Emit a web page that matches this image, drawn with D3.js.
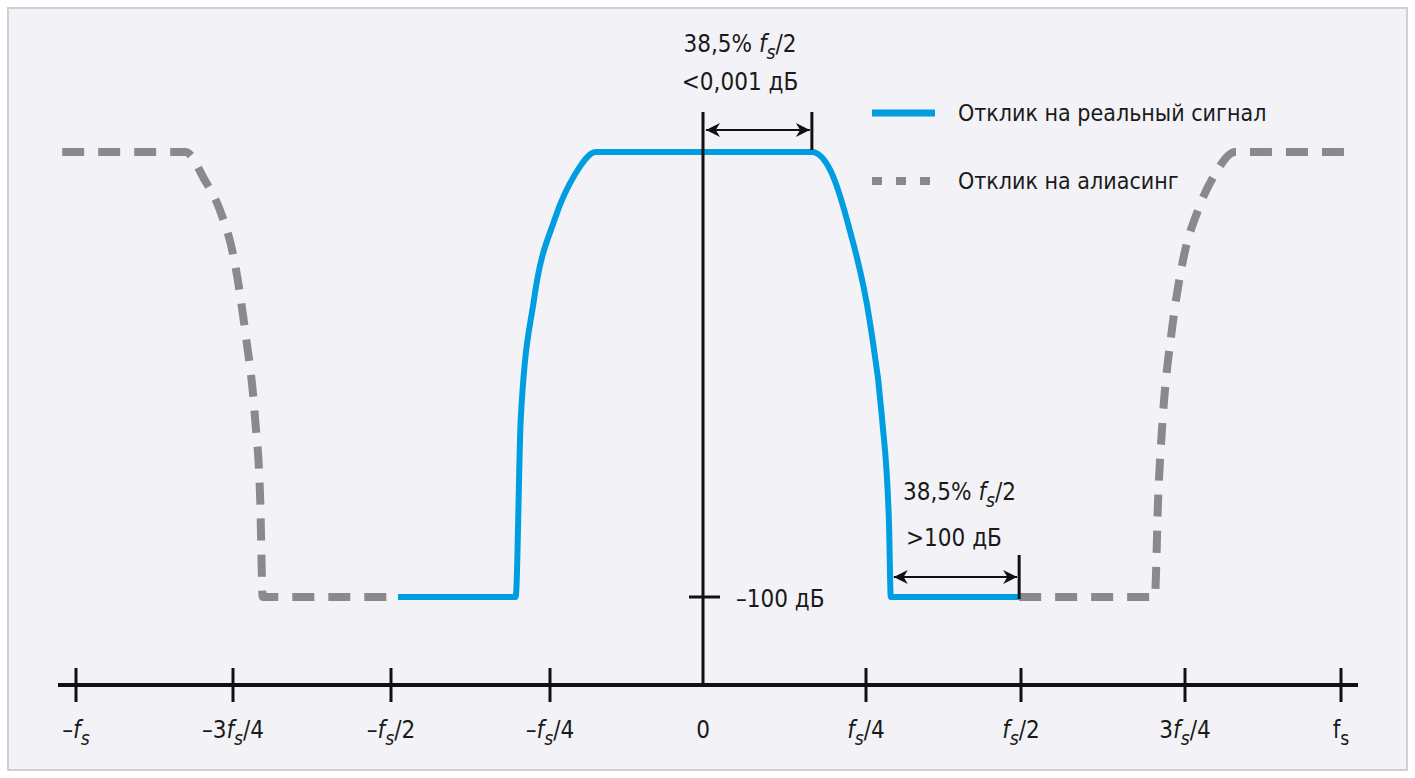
<!DOCTYPE html>
<html><head><meta charset="utf-8">
<script src="https://cdn.jsdelivr.net/npm/d3@7"></script>
<style>
body{margin:0;background:#fff;}
text{font-family:"Liberation Sans Narrow","DejaVu Sans Condensed","Roboto",sans-serif;fill:#1a1a1a;}
</style></head>
<body><svg id="chart" width="1415" height="778"></svg>
<script>
// frequency in units of fs, level in dB
var tickFreq = [-1, -0.75, -0.5, -0.25, 0, 0.25, 0.5, 0.75, 1];
var tickLabels = [["–", "f", "s", ""], ["–3", "f", "s", "/4"], ["–", "f", "s", "/2"], ["–", "f", "s", "/4"],
  ["0", "", "", ""], ["", "f", "s", "/4"], ["", "f", "s", "/2"], ["3", "f", "s", "/4"], ["", "f", "s", "", true]];

var realF = [-0.489, -0.304, -0.296, -0.275, -0.242, -0.209, -0.175, 0.167, 0.195, 0.225, 0.256, 0.276, 0.287, 0.290, 0.497];
var realDb = [-100, -100, -60, -33, -15, -5, 0, 0, -4, -17.5, -38, -60, -83, -100, -100];

var aliasLeftF = [-1.022, -0.826, -0.795, -0.771, -0.748, -0.731, -0.715, -0.707, -0.703, -0.489];
var aliasLeftDb = [0, 0, -6.3, -13, -24.3, -40, -60, -78, -100, -100];
var aliasRightF = [0.497, 0.704, 0.709, 0.716, 0.730, 0.747, 0.771, 0.798, 0.830, 1.022];
var aliasRightDb = [-100, -100, -78, -60, -40, -24.3, -13, -5, 0, 0];

var svg = d3.select("#chart");
svg.append("rect").attr("x", 8).attr("y", 8).attr("width", 1399).attr("height", 762)
  .attr("fill", "#f3f3f7").attr("stroke", "#d0d0d4").attr("stroke-width", 2);

var x = d3.scaleLinear().domain(tickFreq).range([76, 233, 391, 550, 703, 866, 1021, 1185, 1341]);
var y = d3.scaleLinear().domain([0, -100]).range([152, 597]);
var axisY = 685;

var blue = "#009ee0", grey = "#8a8a8c";
var line = d3.line().x(d => x(d[0])).y(d => y(d[1])).curve(d3.curveMonotoneX);

// alias (dashed)
[[aliasLeftF, aliasLeftDb], [aliasRightF, aliasRightDb]].forEach(function(s) {
  svg.append("path").datum(d3.zip(s[0], s[1])).attr("d", line)
    .attr("fill", "none").attr("stroke", grey).attr("stroke-width", 8)
    .attr("stroke-dasharray", "22,14");
});
svg.append("path").datum(d3.zip(realF, realDb)).attr("d", line)
  .attr("fill", "none").attr("stroke", blue).attr("stroke-width", 6).attr("stroke-linejoin", "round");

// arrow marker
var defs = svg.append("defs");
defs.append("marker").attr("id", "ah").attr("viewBox", "0 0 10 10").attr("refX", 10).attr("refY", 5)
  .attr("markerWidth", 6).attr("markerHeight", 6).attr("orient", "auto-start-reverse")
  .attr("markerUnits", "userSpaceOnUse").attr("markerWidth", 16).attr("markerHeight", 14)
  .append("path").attr("d", "M0,0 L10,5 L0,10 L3,5 Z").attr("fill", "#111");

function vline(xp, y1, y2, w) {
  svg.append("line").attr("x1", xp).attr("x2", xp).attr("y1", y1).attr("y2", y2)
    .attr("stroke", "#111").attr("stroke-width", w || 3);
}
function arrow(x1, x2, yp) {
  svg.append("line").attr("x1", x1).attr("x2", x2).attr("y1", yp).attr("y2", yp)
    .attr("stroke", "#111").attr("stroke-width", 2)
    .attr("marker-start", "url(#ah)").attr("marker-end", "url(#ah)");
}

// vertical axis at 0
vline(x(0), 112, axisY, 3);
// passband annotation
vline(x(0.167), 112, 150, 3);
arrow(x(0) + 3, x(0.167) - 2, 130);
// stopband annotation
vline(x(0.497), 555, 599, 3);
arrow(x(0.290) + 3, x(0.497) - 2, 577);
// -100 dB tick
svg.append("line").attr("x1", x(0) - 14).attr("x2", x(0) + 17).attr("y1", y(-100)).attr("y2", y(-100))
  .attr("stroke", "#111").attr("stroke-width", 3);

function fsText(xp, yp, parts, anchor, size) {
  var t = svg.append("text").attr("x", xp).attr("y", yp).attr("text-anchor", anchor || "start")
    .attr("font-size", size || 24);
  t.append("tspan").text(parts[0]);
  if (parts[1]) {
    t.append("tspan").text(parts[1]).attr("font-style", parts[4] ? "normal" : "italic");
    t.append("tspan").text(parts[2]).attr("font-style", parts[4] ? "normal" : "italic")
      .attr("font-size", (size || 24) * 0.8).attr("dy", 7);
    t.append("tspan").text(parts[3]).attr("dy", -7);
  }
  return t;
}
fsText(740, 52, ["38,5% ", "f", "s", "/2"], "middle");
svg.append("text").attr("x", 740).attr("y", 90).attr("text-anchor", "middle").attr("font-size", 24).text("<0,001 дБ");
fsText(903, 500, ["38,5% ", "f", "s", "/2"], "start");
svg.append("text").attr("x", 906).attr("y", 546).attr("font-size", 24).text(">100 дБ");
svg.append("text").attr("x", 736).attr("y", 607).attr("font-size", 24).text("–100 дБ");

// frequency axis
svg.append("line").attr("x1", 58).attr("x2", 1358).attr("y1", axisY).attr("y2", axisY)
  .attr("stroke", "#111").attr("stroke-width", 4);
tickFreq.forEach(function(f, i) {
  if (f !== 0) vline(x(f), axisY - 17, axisY + 17, 3);
  fsText(x(f), 738, tickLabels[i], "middle");
});

// legend
svg.append("line").attr("x1", 872).attr("x2", 935).attr("y1", 113).attr("y2", 113)
  .attr("stroke", blue).attr("stroke-width", 7);
svg.append("text").attr("x", 958).attr("y", 121).attr("font-size", 23).text("Отклик на реальный сигнал");
svg.append("line").attr("x1", 872).attr("x2", 935).attr("y1", 181).attr("y2", 181)
  .attr("stroke", grey).attr("stroke-width", 8).attr("stroke-dasharray", "10,14");
svg.append("text").attr("x", 958).attr("y", 189).attr("font-size", 23).text("Отклик на алиасинг");
</script></body></html>
